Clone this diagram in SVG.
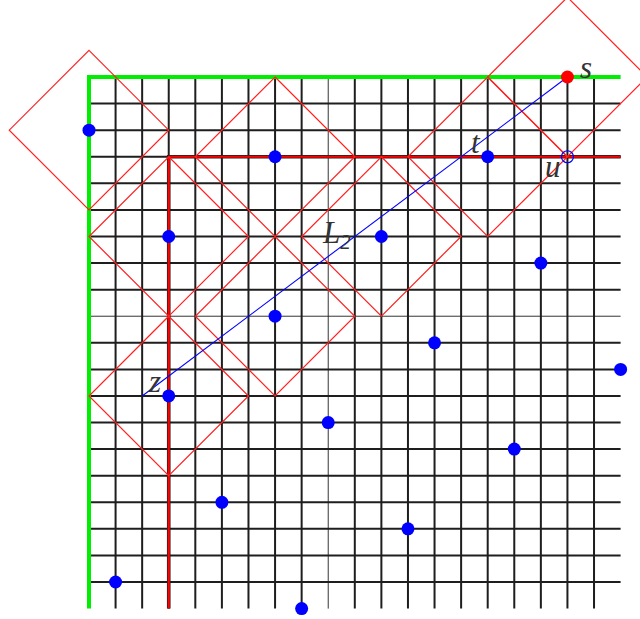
<svg xmlns="http://www.w3.org/2000/svg" width="640" height="619" viewBox="0 0 640 619">
<style>
.g{stroke:#1e1e1e;stroke-width:2;fill:none}
.gt{stroke:#1e1e1e;stroke-width:0.9;fill:none}
.d{stroke:#ff2020;stroke-width:1.2;fill:none}
.dot{fill:#0000ff}
.lbl{font-family:"Liberation Serif","DejaVu Serif",serif;font-style:italic;font-size:31px;fill:#333}
</style>
<rect width="640" height="619" fill="#fff"/>
<g id="grid">
<path class="g" d="M115.58 77V608.6M142.16 77V608.6M168.74 77V608.6M195.32 77V608.6M221.9 77V608.6M248.48 77V608.6M275.06 77V608.6M301.64 77V608.6M354.8 77V608.6M381.38 77V608.6M407.96 77V608.6M434.54 77V608.6M461.12 77V608.6M487.7 77V608.6M514.28 77V608.6M540.86 77V608.6M567.44 77V608.6M594.02 77V608.6"/>
<path class="gt" d="M328.22 77V608.6M89 316.22H620.6"/>
<path class="g" d="M89 103.58H620.6M89 130.16H620.6M89 156.74H620.6M89 183.32H620.6M89 209.9H620.6M89 236.48H620.6M89 263.06H620.6M89 289.64H620.6M89 342.8H620.6M89 369.38H620.6M89 395.96H620.6M89 422.54H620.6M89 449.12H620.6M89 475.7H620.6M89 502.28H620.6M89 528.86H620.6M89 555.44H620.6M89 582.02H620.6"/>
</g>
<g id="red-axes">
<path d="M168.74 608.6V156.74H620.6" stroke="#1e1e1e" stroke-width="3.6" fill="none"/>
<path d="M168.74 608.6V156.74H620.6" stroke="#ff0000" stroke-width="2.2" fill="none"/>
</g>
<g id="green-axes">
<path d="M89 608.6V77H620.6" stroke="#00ee00" stroke-width="4" fill="none"/>
</g>
<g id="diamonds">
<polygon class="d" points="89,50.42 168.74,130.16 89,209.9 9.26,130.16"/>
<polygon class="d" points="168.74,156.74 248.48,236.48 168.74,316.22 89,236.48"/>
<polygon class="d" points="275.06,77 354.8,156.74 275.06,236.48 195.32,156.74"/>
<polygon class="d" points="381.38,156.74 461.12,236.48 381.38,316.22 301.64,236.48"/>
<polygon class="d" points="487.7,77 567.44,156.74 487.7,236.48 407.96,156.74"/>
<polygon class="d" points="275.06,236.48 354.8,316.22 275.06,395.96 195.32,316.22"/>
<polygon class="d" points="168.74,316.22 248.48,395.96 168.74,475.7 89,395.96"/>
<polygon class="d" points="567.44,-2.74 647.18,77 567.44,156.74 487.7,77"/>
</g>
<g id="connectors">
<line x1="567.44" y1="77" x2="142.16" y2="395.96" stroke="#0000ff" stroke-width="1.1"/>
</g>
<g id="points">
<circle class="dot" cx="89" cy="130.16" r="6.5"/>
<circle class="dot" cx="275.06" cy="156.74" r="6.5"/>
<circle class="dot" cx="168.74" cy="236.48" r="6.5"/>
<circle class="dot" cx="381.38" cy="236.48" r="6.5"/>
<circle class="dot" cx="540.86" cy="263.06" r="6.5"/>
<circle class="dot" cx="275.06" cy="316.22" r="6.5"/>
<circle class="dot" cx="434.54" cy="342.8" r="6.5"/>
<circle class="dot" cx="620.6" cy="369.38" r="6.5"/>
<circle class="dot" cx="168.74" cy="395.96" r="6.5"/>
<circle class="dot" cx="328.22" cy="422.54" r="6.5"/>
<circle class="dot" cx="514.28" cy="449.12" r="6.5"/>
<circle class="dot" cx="221.9" cy="502.28" r="6.5"/>
<circle class="dot" cx="407.96" cy="528.86" r="6.5"/>
<circle class="dot" cx="115.58" cy="582.02" r="6.5"/>
<circle class="dot" cx="301.64" cy="608.6" r="6.5"/>
</g>
<g id="node-t"><circle class="dot" cx="487.7" cy="156.74" r="6.5"/><text class="lbl" x="471" y="153">t</text></g>
<g id="node-s"><circle cx="567.44" cy="77" r="6.5" fill="#ff0000"/><text class="lbl" x="580" y="78">s</text></g>
<g id="node-u"><circle cx="567.44" cy="156.74" r="6" fill="none" stroke="#0000ff" stroke-width="1.2"/><text class="lbl" x="545" y="177">u</text></g>
<g id="node-z"><text class="lbl" x="149" y="392">z</text></g>
<g id="label-L2"><text class="lbl" x="323" y="243">L<tspan font-size="21" dy="6">2</tspan></text></g>
</svg>
